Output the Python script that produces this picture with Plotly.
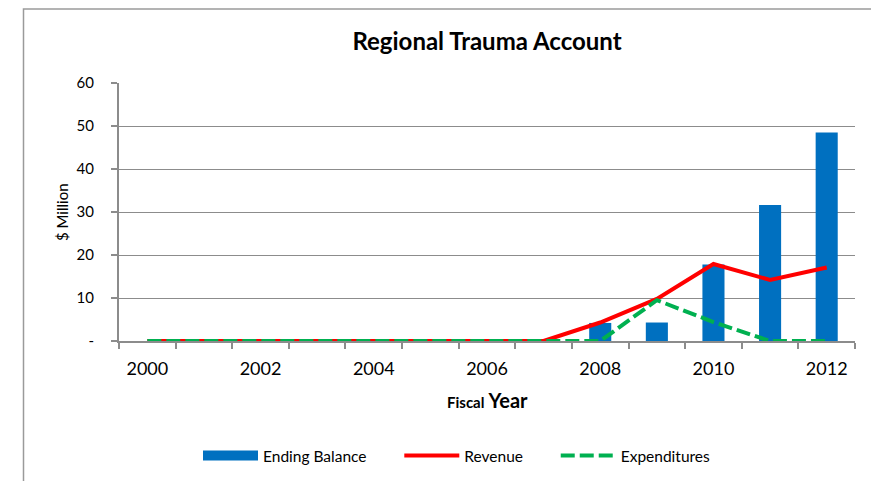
import plotly.graph_objects as go

years = list(range(2000, 2013))
ending_balance = [0, 0, 0, 0, 0, 0, 0, 0, 4.2, 4.3, 17.8, 31.6, 48.5]
revenue = [0, 0, 0, 0, 0, 0, 0, 0, 4.3, 9.8, 17.9, 14.2, 17.1]
expenditures = [0, 0, 0, 0, 0, 0, 0, 0, 0, 9.5, 4.4, 0, 0]
x_tick_labels = ["2000", "2002", "2004", "2006", "2008", "2010", "2012"]
y_tick_labels = ["-", "10", "20", "30", "40", "50", "60"]

FONT = "Lato"
GRID = "#8c8c8c"
BLUE, RED, GREEN = "#0070C0", "#FF0000", "#00B050"
PAD = "\u00a0" * 7

fig = go.Figure()
fig.add_trace(go.Bar(x=years, y=ending_balance, name="Ending Balance", legendgroup="eb",
                     showlegend=False, marker=dict(color=BLUE, line=dict(width=0)), width=0.39))
# legend swatch for the bars (wide flat rectangle as in the reference)
fig.add_trace(go.Scatter(x=[None], y=[None], name="Ending Balance" + PAD, legendgroup="eb",
                         mode="lines", line=dict(color=BLUE, width=10)))
fig.add_trace(go.Scatter(x=years, y=revenue, name="Revenue" + PAD, mode="lines",
                         line=dict(color=RED, width=4)))
fig.add_trace(go.Scatter(x=years, y=expenditures, name="Expenditures", mode="lines",
                         line=dict(color=GREEN, width=4, dash="14px,5px")))

OFF = 8  # default page body margin
W, H = 879 - OFF, 481 - OFF
PL, PR, PT, PB = 119, 855, 83, 341
L, T = PL - OFF, PT - OFF
R = W - (PR - OFF)
B = H - (PB - OFF)
pw, ph = W - L - R, H - T - B

def px(x):
    return (x - OFF - L) / pw

def py(y):
    return (H - B - (y - OFF)) / ph

fig.update_layout(
    width=W, height=H,
    margin=dict(l=L, r=R, t=T, b=B, autoexpand=False),
    paper_bgcolor="white", plot_bgcolor="white",
    font=dict(family=FONT, color="#000000"),
    showlegend=True,
    title=dict(text="<b>Regional Trauma Account</b>", x=0.5, xref="paper", xanchor="center",
               y=1 - (42 - OFF) / H, yanchor="middle", font=dict(size=24, family=FONT)),
    legend=dict(orientation="h", x=px(457), xanchor="center", y=py(456), yanchor="middle",
                font=dict(size=15.5, family=FONT), traceorder="normal", itemwidth=55,
                bgcolor="rgba(0,0,0,0)"),
    xaxis=dict(range=[1999.5, 2012.5], tickmode="array", tickvals=years[::2], ticktext=x_tick_labels,
               ticks="", showgrid=False, showline=True, linecolor=GRID, linewidth=2,
               tickfont=dict(size=18, family=FONT), zeroline=False, ticklabelstandoff=10,
               automargin=False,
               minor=dict(ticks="outside", tick0=1999.5, dtick=1, ticklen=6, tickcolor=GRID,
                          tickwidth=2, showgrid=False)),
    yaxis=dict(range=[0, 60], tickmode="array", tickvals=[0, 10, 20, 30, 40, 50, 60],
               ticktext=y_tick_labels, ticks="outside", ticklen=6, tickcolor=GRID, tickwidth=2,
               showgrid=True, gridcolor=GRID, gridwidth=1, showline=True, linecolor=GRID, linewidth=2,
               zeroline=False, tickfont=dict(size=15, family=FONT), ticklabelstandoff=14,
               automargin=False),
    annotations=[
        dict(text="<b><span style='font-size:15px'>Fiscal</span> Year</b>", x=px(487), y=py(400),
             xref="paper", yref="paper", showarrow=False, font=dict(size=20, family=FONT),
             xanchor="center", yanchor="middle"),
        dict(text="$ Million", x=px(62), y=py(212), xref="paper", yref="paper", showarrow=False,
             textangle=-90, font=dict(size=15, family=FONT), xanchor="center", yanchor="middle"),
    ],
    shapes=[dict(type="rect", xref="paper", yref="paper", x0=px(23.5), x1=px(878), y0=py(495), y1=py(9),
                 line=dict(color="#9a9a9a", width=1.5), layer="below")],
)

fig.write_html("out.html")
